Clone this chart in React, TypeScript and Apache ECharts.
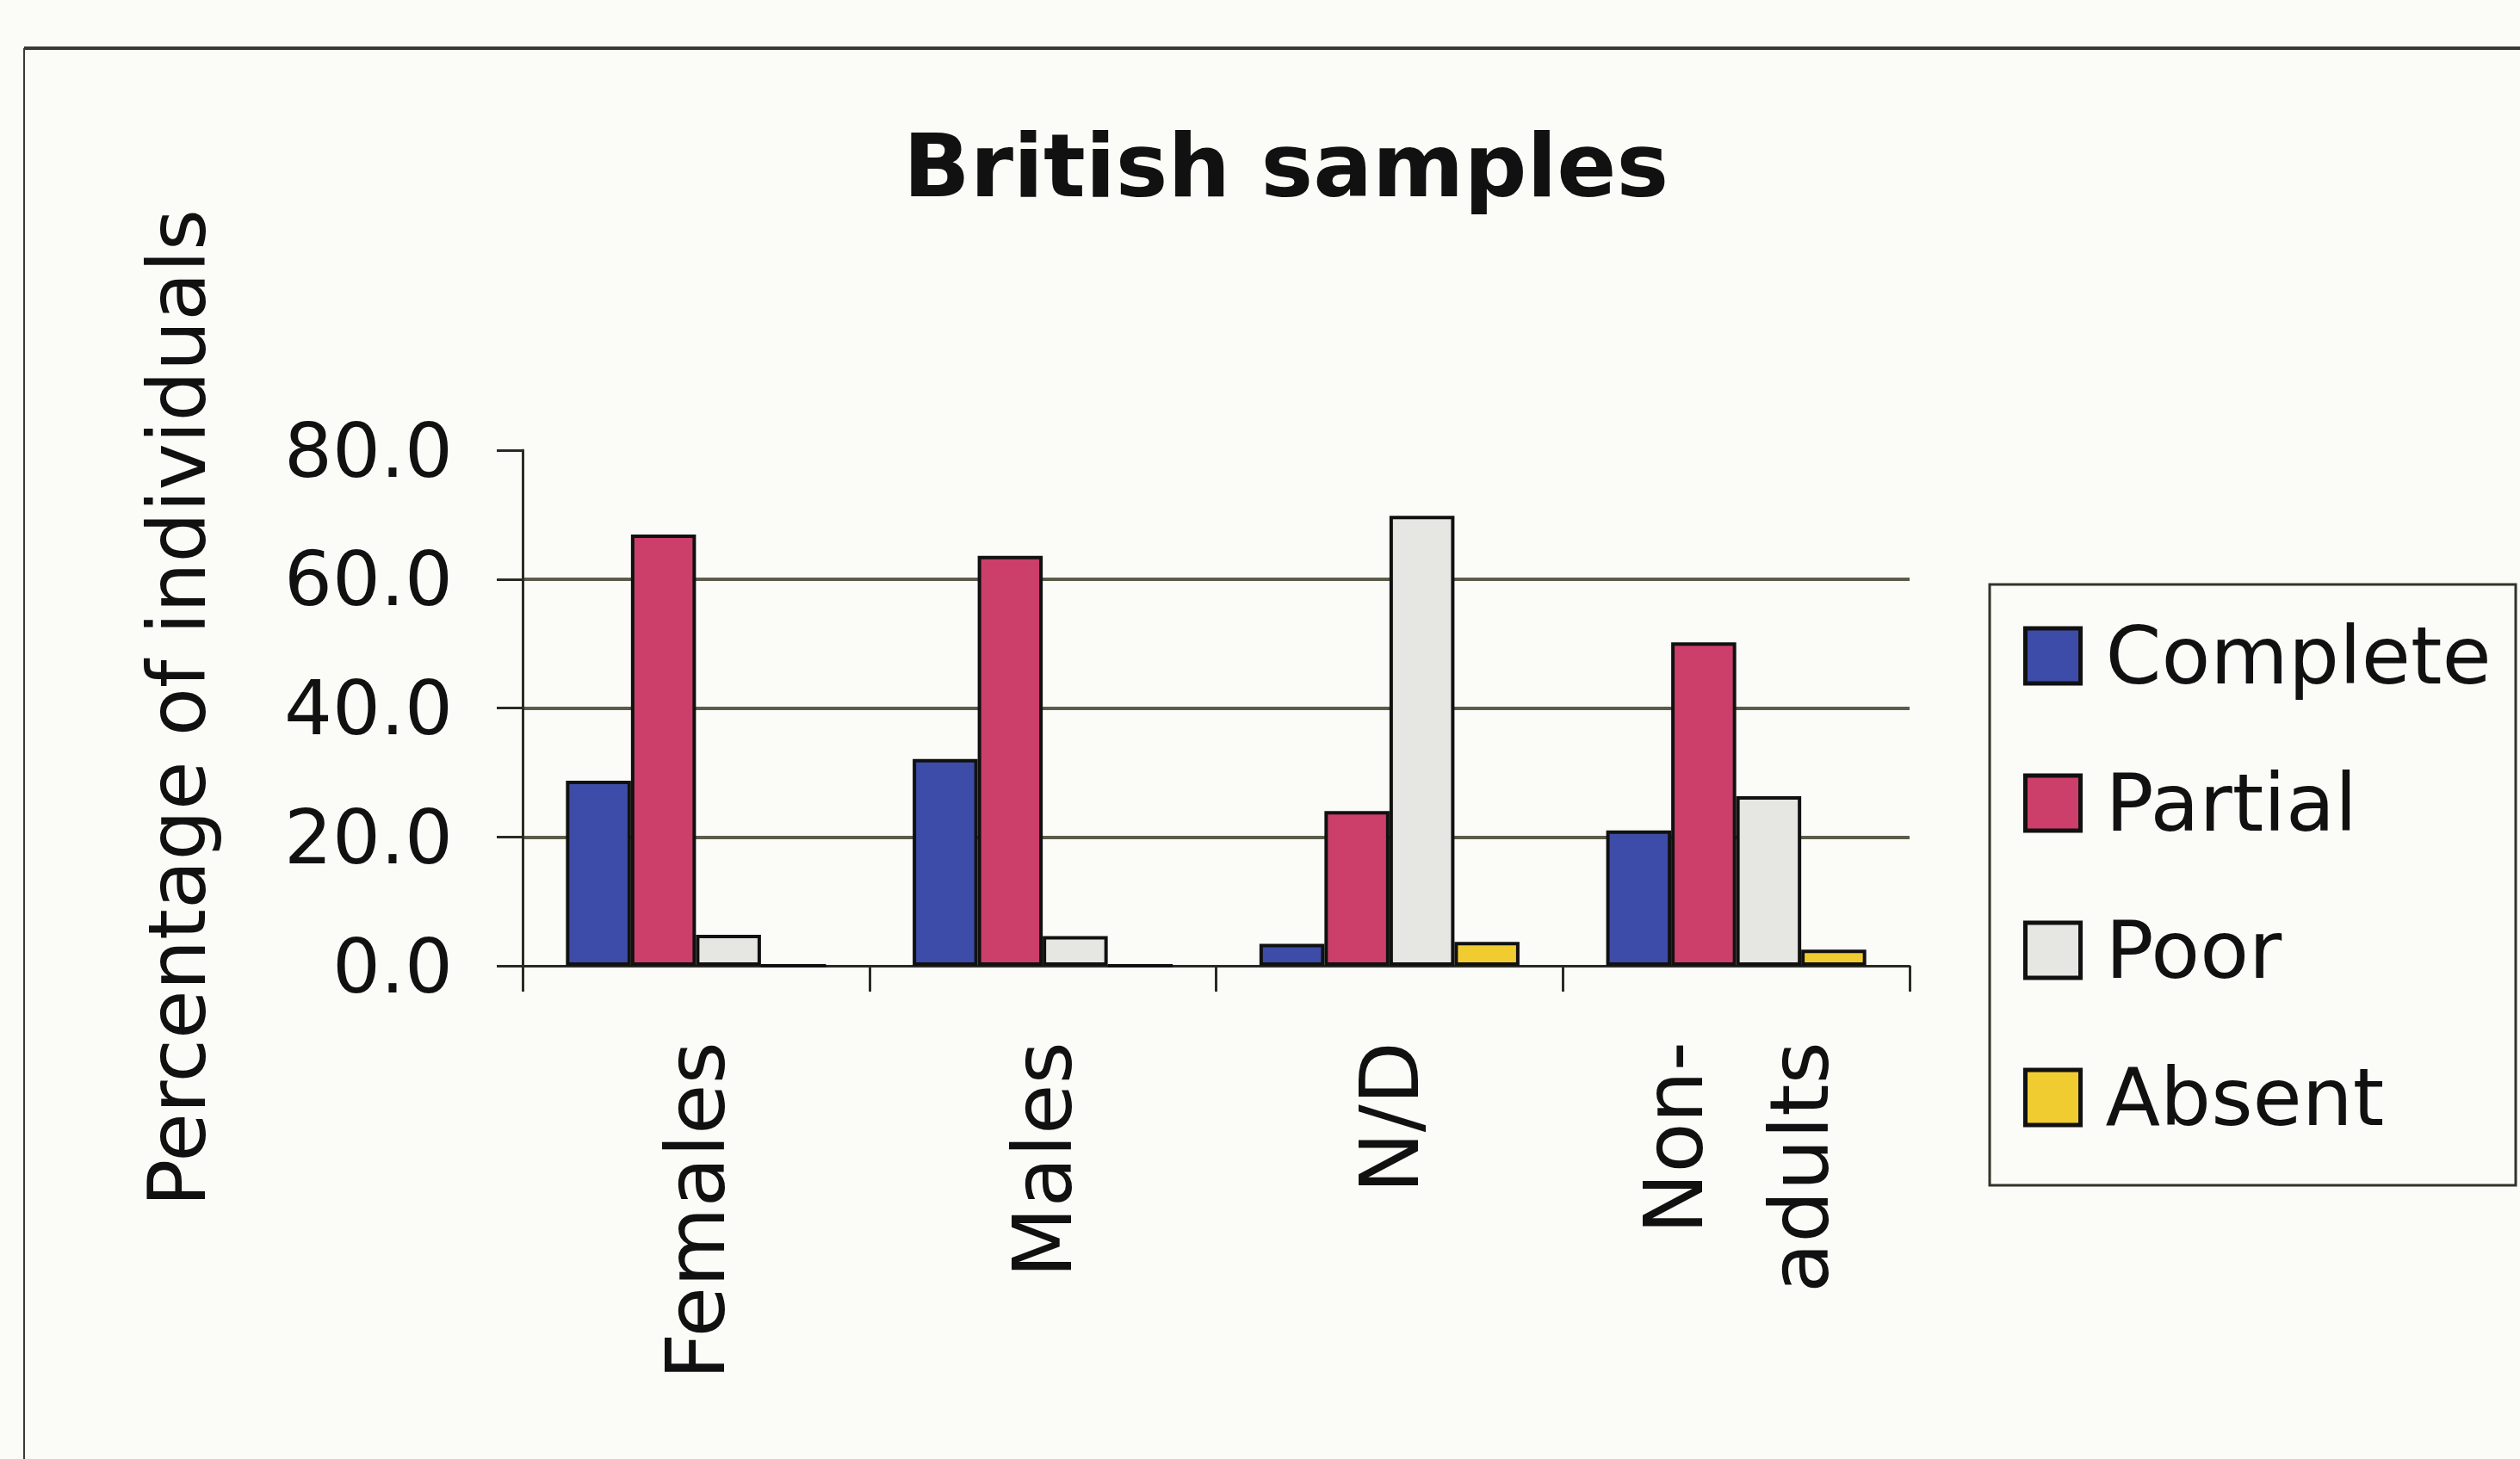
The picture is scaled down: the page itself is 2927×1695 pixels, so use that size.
import React, { useEffect, useRef } from "react";
import * as echarts from "echarts";

const categories = ["Females", "Males", "N/D", "Non-\nadults"];
const seriesNames = ["Complete", "Partial", "Poor", "Absent"];
const complete = [28.7, 32.1, 3.4, 21.0];
const partial = [66.9, 63.6, 24.0, 50.2];
const poor = [4.8, 4.6, 69.8, 26.3];
const absent = [0, 0, 3.7, 2.5];
const yMin = 0;
const yMax = 80;
const yInterval = 20;

const colors = ["#3d4ca8", "#cc3f6a", "#e6e6e3", "#f0cc30"];
const FONT = "DejaVu Sans";
const TEXT = "#111111";
const BG = "#fbfbf8";

export default function App() {
  const ref = useRef<HTMLDivElement>(null);
  useEffect(() => {
    if (!ref.current) return;
    const chart = echarts.init(ref.current, null, { renderer: "svg" });
    const values = [complete, partial, poor, absent];
    chart.setOption({
      animation: false,
      backgroundColor: BG,
      title: {
        text: "British samples",
        left: 1049,
        top: 141,
        padding: 0,
        textStyle: { fontFamily: FONT, fontWeight: "bold", fontSize: 102, color: TEXT },
      },
      graphic: [
        { type: "line", shape: { x1: 28, y1: 56, x2: 2927, y2: 56 }, style: { stroke: "#3a3a30", lineWidth: 4 } },
        { type: "line", shape: { x1: 28, y1: 56, x2: 28, y2: 1695 }, style: { stroke: "#3a3a30", lineWidth: 2 } },
        { type: "rect", shape: { x: 2311, y: 679, width: 611, height: 698 }, style: { fill: "none", stroke: "#333328", lineWidth: 3 } },
      ],
      legend: {
        orient: "vertical",
        left: 2350,
        top: 712,
        padding: 0,
        itemWidth: 64,
        itemHeight: 64,
        itemGap: 71,
        icon: "rect",
        itemStyle: { borderColor: "#111", borderWidth: 5 },
        textStyle: { fontFamily: FONT, fontSize: 93, lineHeight: 100, color: TEXT, padding: [0, 0, 0, 24] },
        data: seriesNames,
      },
      grid: { left: 607, right: 709, top: 523, bottom: 573, containLabel: false },
      xAxis: {
        type: "category",
        data: categories,
        axisLine: { lineStyle: { color: "#2a2a22", width: 3 } },
        axisTick: { show: true, length: 30, lineStyle: { color: "#2a2a22", width: 3 } },
        axisLabel: {
          rotate: 90,
          margin: 88,
          fontFamily: FONT,
          fontSize: 95,
          lineHeight: 146,
          color: TEXT,
          interval: 0,
        },
      },
      yAxis: {
        type: "value",
        min: yMin,
        max: yMax,
        interval: yInterval,
        name: "Percentage of individuals",
        nameLocation: "middle",
        nameRotate: 90,
        nameGap: 355,
        nameTextStyle: { fontFamily: FONT, fontSize: 92, color: TEXT },
        axisLine: { show: true, lineStyle: { color: "#2a2a22", width: 3 } },
        axisTick: { show: true, length: 30, lineStyle: { color: "#2a2a22", width: 3 } },
        axisLabel: {
          margin: 81,
          fontFamily: FONT,
          fontSize: 88,
          color: TEXT,
          formatter: (v: number) => v.toFixed(1),
        },
        splitLine: {
          show: true,
          showMaxLine: false,
          showMinLine: false,
          lineStyle: { color: "#5c5c4a", width: 4 },
        },
      },
      series: seriesNames.map((name, i) => ({
        name,
        type: "bar",
        data: values[i],
        barCategoryGap: "25%",
        barGap: "0%",
        itemStyle: { color: colors[i], borderColor: "#111", borderWidth: 4 },
      })),
    });
    return () => chart.dispose();
  }, []);
  return (
    <div
      ref={ref}
      style={{ position: "fixed", left: 0, top: 0, width: "2927px", height: "1695px" }}
    />
  );
}
